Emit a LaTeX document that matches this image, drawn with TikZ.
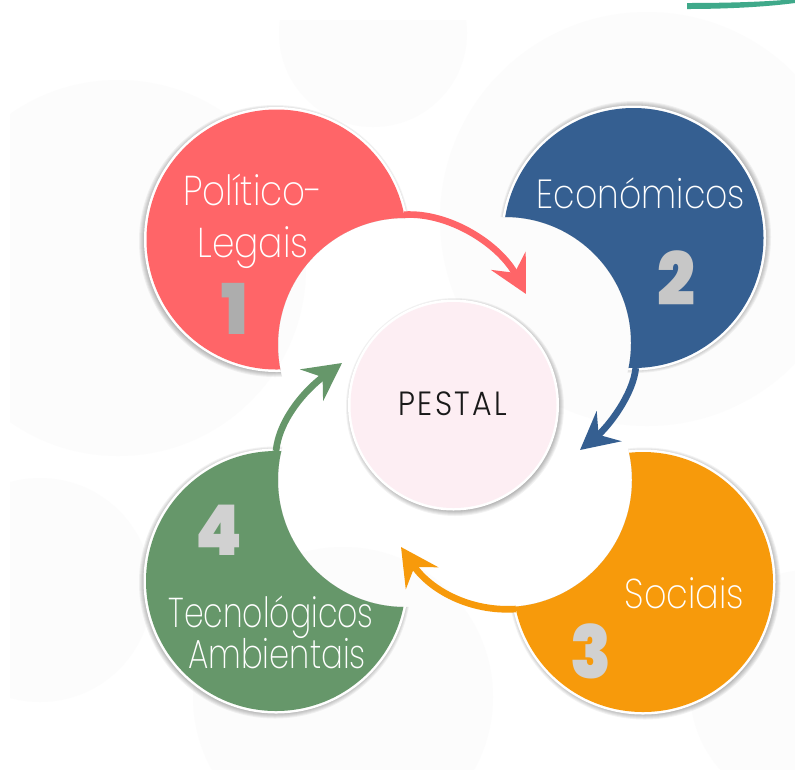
\documentclass[tikz,border=0pt]{standalone}
\usepackage{fontspec}
\usetikzlibrary{arrows.meta}
\setmainfont{Poppins ExtraLight}
\newfontfamily\digitfont{Poppins Black}
\newfontfamily\centrefont{Poppins Light}
\definecolor{cRed}{HTML}{FF6568}
\definecolor{cBlue}{HTML}{355F91}
\definecolor{cOrange}{HTML}{F79A0B}
\definecolor{cGreen}{HTML}{66976A}
\definecolor{cPink}{HTML}{FDEEF3}
\definecolor{cFaint}{HTML}{FCFCFC}
\definecolor{cTeal}{HTML}{3FA98A}
\tikzset{
  x=0.75pt,y=-0.75pt,
  disc/.style={circle,inner sep=0pt,outer sep=0pt,minimum size=#1*0.75pt},
  label/.style={text=white,font=\fontsize{25}{30}\selectfont,inner sep=0pt,anchor=base},
  digit/.style={font=\digitfont\fontsize{50}{50}\selectfont,inner sep=0pt},
  arrowline/.style={line width=5pt,-{Stealth[length=28pt,width=29pt,inset=10pt]}},
}
% soft shadow pushed outward by (#4,#5), then a white rim
\newcommand{\haloring}[5]{%
  \foreach \d in {6,5,4,3,2,1,0}{\fill[black,opacity=0.05] (#1+#4,#2+#5) circle (#3+\d);}
  \fill[white] (#1,#2) circle (#3+2.5);}
\begin{document}
\begin{tikzpicture}
\useasboundingbox (0,0) rectangle (795,769);
\fill[white] (0,0) rectangle (795,769);
% faint background circles
\begin{scope}
\clip (10,20) rectangle (795,769);
\fill[cFaint] (373,33) circle (94);
\fill[cFaint] (118,268) circle (188);
\fill[cFaint] (40,590) circle (112);
\fill[cFaint] (343,697) circle (150);
\end{scope}
\begin{scope}
\clip (0,0) rectangle (795,769);
\fill[cFaint] (647,219) circle (207);
\fill[cFaint] (810,690) circle (120);
\fill[cTeal] (687,3) .. controls (725,3) and (765,2) .. (795,-1) -- (795,3) .. controls (765,7) and (725,9) .. (687,9) -- cycle;
\end{scope}
% coloured crescents: each disc is clipped by its white lobe
\begin{scope}[even odd rule]
\clip (0,0) rectangle (795,769) (405,345) circle (127);
\haloring{276.5}{239.5}{130}{-1.5}{1.5}
\node[disc=260,fill=cRed] (red) at (276.5,239.5) {};
\end{scope}
\begin{scope}[even odd rule]
\clip (0,0) rectangle (795,769) (505,343) circle (126);
\haloring{633.5}{238}{130}{1.5}{-1}
\node[disc=260,fill=cBlue] (blue) at (633.5,238) {};
\end{scope}
\begin{scope}[even odd rule]
\clip (0,0) rectangle (795,769) (505,480) circle (127);
\haloring{643}{582}{130}{1.5}{1.5}
\node[disc=260,fill=cOrange] (orange) at (643,582) {};
\end{scope}
\begin{scope}[even odd rule]
\clip (0,0) rectangle (795,769) (405,480) circle (127);
\haloring{276}{581}{130}{-1}{1.5}
\node[disc=260,fill=cGreen] (green) at (276,581) {};
\end{scope}
% centre disc
\haloring{453.5}{405}{103}{1.5}{2}
\node[disc=206,fill=cPink] (centre) at (453.5,405) {};
\node[font=\centrefont\fontsize{21}{26}\selectfont\addfontfeatures{LetterSpace=8},text=black!90,inner sep=0pt,anchor=base] (pestal) at (453,415) {\scalebox{1.07}[1.2]{PESTAL}};
% arrows
\coordinate (tipRed) at (526,294);
\coordinate (tipBlue) at (580,450);
\coordinate (tipOrange) at (401,547);
\coordinate (tipGreen) at (342,363);
\draw[arrowline,cRed] (red.11) .. controls (450,212) and (500,245) .. (tipRed);
\draw[arrowline,cBlue] (blue.-89) .. controls (633,395) and (608,427) .. (tipBlue);
\draw[arrowline,cOrange] (orange.192) .. controls (470,612) and (430,590) .. (tipOrange);
\draw[arrowline,cGreen] (green.90) .. controls (279,420) and (305,390) .. (tipGreen);
% labels
\node[label] (t1a) at (253,205) {\scalebox{1.07}[1.25]{Político-}};
\node[label] (t1b) at (253,257) {\scalebox{1.08}[1.25]{Legais}};
\node[label] (t2) at (641,208) {\scalebox{1.04}[1.22]{Económicos}};
\node[label] (t3) at (684.5,608) {\scalebox{1.05}[1.25]{Sociais}};
\node[label] (t4a) at (271,627) {\scalebox{0.945}[1.25]{Tecnológicos}};
\node[label] (t4b) at (277,668) {\scalebox{0.97}[1.22]{Ambientais}};
\node[digit,text=black!32] (d1) at (235,309) {\scalebox{1}[1.05]{1}};
\node[digit,text=black!22] (d2) at (676,278) {\scalebox{1}[1.1]{2}};
\node[digit,text=black!18] (d3) at (591,651) {\scalebox{1}[1.1]{3}};
\node[digit,text=black!18] (d4) at (219,530) {\scalebox{1}[1.05]{4}};
\end{tikzpicture}
\end{document}
